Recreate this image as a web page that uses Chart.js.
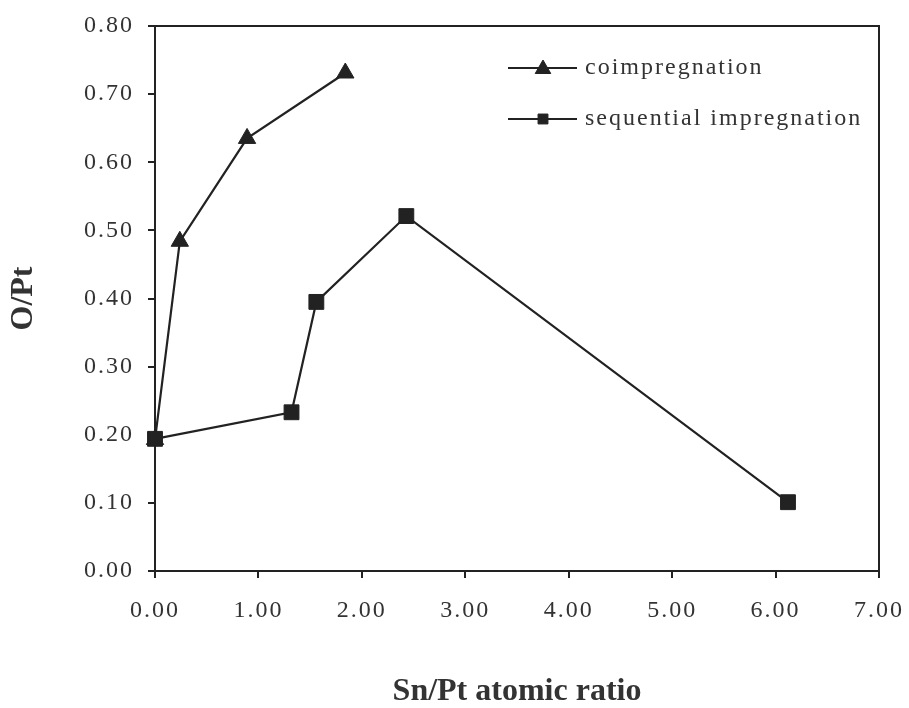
<!DOCTYPE html>
<html>
<head>
<meta charset="utf-8">
<script src="https://cdn.jsdelivr.net/npm/chart.js@4/dist/chart.umd.min.js"></script>
<style>
html, body { margin: 0; padding: 0; background: #fff; }
#wrap { width: 909px; height: 708px; }
</style>
</head>
<body>
<div id="wrap"><canvas id="chart" width="909" height="708"></canvas></div>
<script>
// values
const coimpX = [0, 0.24, 0.89, 1.84];
const coimpY = [0.193, 0.484, 0.635, 0.731];
const seqX = [0, 1.32, 1.56, 2.43, 6.12];
const seqY = [0.194, 0.233, 0.395, 0.521, 0.101];
const seriesNames = ['coimpregnation', 'sequential impregnation'];
const xTicks = [0, 1, 2, 3, 4, 5, 6, 7];
const yTicks = [0, 0.1, 0.2, 0.3, 0.4, 0.5, 0.6, 0.7, 0.8];
const xTitle = 'Sn/Pt atomic ratio';
const yTitle = 'O/Pt';

const ink = '#222';
const textInk = '#333';
const serif = '"Liberation Serif", "DejaVu Serif", serif';

function toPoints(xs, ys) {
    return xs.map((x, i) => ({ x: x, y: ys[i] }));
}

// text spacing of the tick labels
const spacing = {
    id: 'spacing',
    beforeDraw(chart) {
        chart.ctx.letterSpacing = '2px';
    }
};

// box round the plot
const frame = {
    id: 'frame',
    beforeDatasetsDraw(chart) {
        const a = chart.chartArea;
        const ctx = chart.ctx;
        ctx.save();
        ctx.strokeStyle = ink;
        ctx.lineWidth = 2;
        ctx.strokeRect(a.left, a.top, a.right - a.left, a.bottom - a.top);
        ctx.restore();
    }
};

// legend inside the plot, line-marker-line like the original
const legendSizes = [9, 7];
const legendBox = {
    id: 'legendBox',
    afterDatasetsDraw(chart) {
        const ctx = chart.ctx;
        const rows = [68, 119];
        chart.data.datasets.forEach((ds, i) => {
            const y = rows[i];
            ctx.save();
            ctx.strokeStyle = ds.borderColor;
            ctx.fillStyle = ds.backgroundColor;
            ctx.lineWidth = 2.2;
            ctx.beginPath();
            ctx.moveTo(508, y);
            ctx.lineTo(577, y);
            ctx.stroke();
            ctx.lineWidth = 1;
            Chart.helpers.drawPoint(ctx, { pointStyle: ds.pointStyle, radius: legendSizes[i], borderWidth: 1, rotation: 0 }, 543, y + (i === 0 ? 1 : 0));
            ctx.letterSpacing = '2px';
            ctx.fillStyle = textInk;
            ctx.font = '24px ' + serif;
            ctx.textAlign = 'left';
            ctx.textBaseline = 'middle';
            ctx.fillText(ds.label, 585, y);
            ctx.restore();
        });
    }
};

// axis titles, bold and without extra spacing
const axisTitles = {
    id: 'axisTitles',
    afterDraw(chart) {
        const ctx = chart.ctx;
        const a = chart.chartArea;
        ctx.save();
        ctx.letterSpacing = '0px';
        ctx.fillStyle = textInk;
        ctx.font = 'bold 32px ' + serif;
        ctx.textAlign = 'center';
        ctx.textBaseline = 'middle';
        ctx.fillText(xTitle, (a.left + a.right) / 2, 692);
        ctx.translate(24, (a.top + a.bottom) / 2);
        ctx.rotate(-Math.PI / 2);
        ctx.fillText(yTitle, 0, 0);
        ctx.restore();
    }
};

const ctx = document.getElementById('chart').getContext('2d');
new Chart(ctx, {
    type: 'scatter',
    data: {
        datasets: [{
            label: seriesNames[0],
            data: toPoints(coimpX, coimpY),
            showLine: true,
            clip: false,
            borderColor: ink,
            backgroundColor: ink,
            borderWidth: 2.2,
            pointStyle: 'triangle',
            pointRadius: 10,
            pointBorderWidth: 1,
            order: 1
        }, {
            label: seriesNames[1],
            data: toPoints(seqX, seqY),
            showLine: true,
            clip: false,
            borderColor: ink,
            backgroundColor: ink,
            borderWidth: 2.2,
            pointStyle: 'rect',
            pointRadius: 10.5,
            pointBorderWidth: 1,
            order: 0
        }]
    },
    options: {
        responsive: false,
        animation: false,
        devicePixelRatio: 1,
        layout: { padding: { left: 0, top: 26, right: 30, bottom: 0 } },
        plugins: {
            legend: { display: false },
            tooltip: { enabled: false }
        },
        scales: {
            x: {
                type: 'linear',
                min: 0,
                max: 7,
                afterBuildTicks: (scale) => { scale.ticks = xTicks.map(v => ({ value: v })); },
                afterFit: (scale) => {
                    scale.height = 137;
                    scale.paddingLeft = 0;
                    scale.paddingRight = 0;
                },
                grid: { drawOnChartArea: false, drawTicks: true, tickLength: 7, color: ink, lineWidth: 2 },
                border: { display: true, color: ink, width: 2 },
                ticks: {
                    padding: 18,
                    color: textInk,
                    font: { family: serif, size: 24 },
                    maxRotation: 0,
                    callback: (v) => Number(v).toFixed(2)
                }
            },
            y: {
                type: 'linear',
                min: 0,
                max: 0.8,
                afterBuildTicks: (scale) => { scale.ticks = yTicks.map(v => ({ value: v })); },
                afterFit: (scale) => {
                    scale.width = 155;
                    scale.paddingTop = 0;
                    scale.paddingBottom = 0;
                },
                grid: { drawOnChartArea: false, drawTicks: true, tickLength: 7, color: ink, lineWidth: 2 },
                border: { display: true, color: ink, width: 2 },
                ticks: {
                    padding: 14,
                    color: textInk,
                    font: { family: serif, size: 24 },
                    callback: (v) => Number(v).toFixed(2)
                }
            }
        }
    },
    plugins: [spacing, frame, legendBox, axisTitles]
});
</script>
</body>
</html>
